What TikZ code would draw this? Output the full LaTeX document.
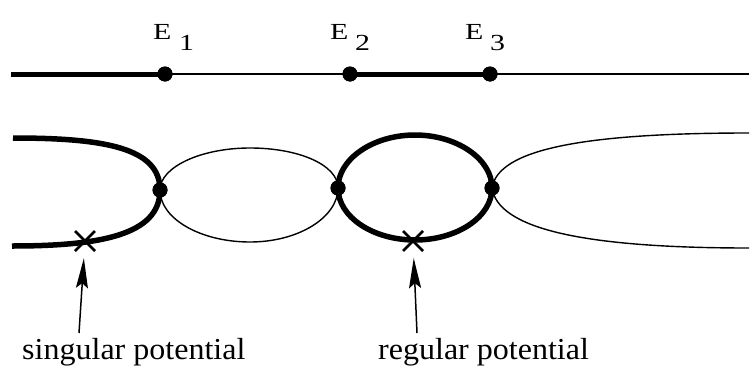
\documentclass[tikz,border=0pt]{standalone}
\usepackage{fontspec}
\setmainfont{Liberation Serif}
\usetikzlibrary{arrows.meta}
\begin{document}
\begin{tikzpicture}[x=1pt,y=-1pt,
  dotnode/.style={circle,fill=black,inner sep=0pt,minimum size=15pt},
  lowdot/.style={circle,fill=black,inner sep=0pt,minimum size=15pt},
  thickln/.style={line width=5pt},
  thinln/.style={line width=1.5pt},
  thickcv/.style={line width=5.5pt},
  thincv/.style={line width=1.4pt},
  elab/.style={inner sep=0pt,anchor=base west,font=\fontsize{23}{26}\selectfont},
  plab/.style={inner sep=0pt,anchor=base west,font=\fontsize{30.5}{34}\selectfont},
  crossmk/.style={line width=2.5pt},
  mark spot/.style={circle,inner sep=0pt,minimum size=34pt},
  pointer/.style={line width=1.5pt,-{Stealth[length=30pt,width=12pt,inset=5pt]}}]
\useasboundingbox (0,0) rectangle (755,367);

% top energy axis
\coordinate (lstart) at (11,74);
\coordinate (rend) at (749,74);
\node[dotnode] (t1) at (165,74) {};
\node[dotnode] (t2) at (350,74) {};
\node[dotnode] (t3) at (490,74) {};
\draw[thickln] (lstart) -- (t1.center);
\draw[thinln] (t1.center) -- (t2.center);
\draw[thickln] (t2.center) -- (t3.center);
\draw[thinln] (t3.center) -- (rend);
\node[dotnode] at (t1) {};
\node[dotnode] at (t2) {};
\node[dotnode] at (t3) {};

% labels E_i
\node[elab] (e1) at (153,39) {\scalebox{1.3}[1]{E}};
\node[elab] (e1s) at (179,50) {\scalebox{1.3}[1]{1}};
\node[elab] (e2) at (330,39) {\scalebox{1.3}[1]{E}};
\node[elab] (e2s) at (355,50) {\scalebox{1.3}[1]{2}};
\node[elab] (e3) at (465,39) {\scalebox{1.3}[1]{E}};
\node[elab] (e3s) at (490,50) {\scalebox{1.3}[1]{3}};

% lower curves
\coordinate (ltop) at (13,138);
\coordinate (lbot) at (12,246);
\coordinate (rtop) at (749,133);
\coordinate (rbot) at (749,248);
\node[lowdot] (d1) at (160,190) {};
\node[lowdot] (d2) at (338,188) {};
\node[lowdot] (d3) at (492,188) {};

\draw[thickcv] (ltop) .. controls (105,138) and (160,148) .. (d1.center);
\draw[thickcv] (lbot) .. controls (100,246) and (160,235) .. (d1.center);

\draw[thincv] (d1.center) .. controls (160,167) and (201,148) .. (250,148)
  .. controls (299,148) and (338,165) .. (d2.center);
\draw[thincv] (d1.center) .. controls (160,219) and (201,242) .. (250,242)
  .. controls (299,242) and (338,217) .. (d2.center);

\draw[thickcv] (d2.center) .. controls (338,159) and (373,135) .. (415,135)
  .. controls (457,135) and (492,159) .. (d3.center);
\draw[thickcv] (d2.center) .. controls (338,217) and (373,240) .. (415,240)
  .. controls (457,240) and (492,217) .. (d3.center);

\draw[thincv] (d3.center) .. controls (498,150) and (580,133) .. (rtop);
\draw[thincv] (d3.center) .. controls (498,228) and (580,248) .. (rbot);

\node[lowdot] at (d1) {};
\node[lowdot] at (d2) {};
\node[lowdot] at (d3) {};

% potential marks
\node[mark spot] (sx) at (85,241) {};
\node[mark spot] (rx) at (413,241) {};
\draw[crossmk] ([shift={(-10,-10)}]sx.center) -- ([shift={(10,10)}]sx.center);
\draw[crossmk] ([shift={(-10,10)}]sx.center) -- ([shift={(10,-10)}]sx.center);
\draw[crossmk] ([shift={(-10,-10)}]rx.center) -- ([shift={(10,10)}]rx.center);
\draw[crossmk] ([shift={(-10,10)}]rx.center) -- ([shift={(10,-10)}]rx.center);

\coordinate (stail) at (79,333);
\coordinate (rtail) at (417,333);
\draw[pointer] (stail) -- (sx);
\draw[pointer] (rtail) -- (rx);

\node[plab] (slab) at (22,359) {\scalebox{1.05}[1]{singular potential}};
\node[plab] (rlab) at (378,359) {\scalebox{1.05}[1]{regular potential}};
\end{tikzpicture}
\end{document}
